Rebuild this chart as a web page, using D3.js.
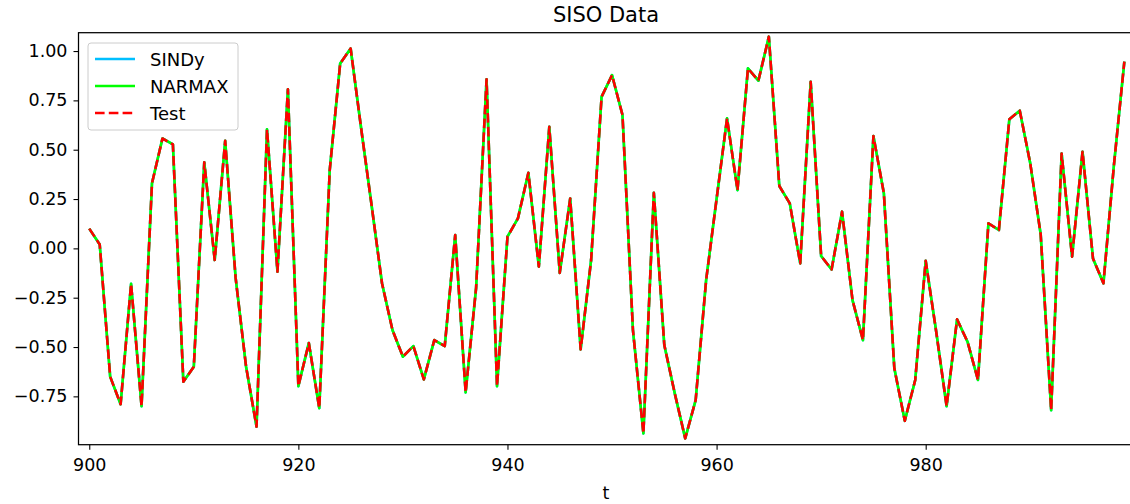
<!DOCTYPE html>
<html>
<head>
<meta charset="utf-8">
<script src="https://cdn.jsdelivr.net/npm/d3@7"></script>
<style>
  body { margin: 0; background: #fff; }
  svg { font-family: "DejaVu Sans", sans-serif; }
</style>
</head>
<body>
<div class="canvas"></div>
<script>
// time steps 900..999
const tStart = 900;

// test signal
const test = [
  0.10, 0.02, -0.65, -0.79, -0.18, -0.80, 0.33, 0.557, 0.527, -0.676,
  -0.60, 0.436, -0.059, 0.545, -0.15, -0.60, -0.904, 0.603, -0.118, 0.806,
  -0.698, -0.48, -0.81, 0.397, 0.937, 1.013, 0.61, 0.22, -0.177, -0.414,
  -0.549, -0.495, -0.664, -0.465, -0.495, 0.067, -0.73, -0.20, 0.857, -0.698,
  0.059, 0.152, 0.383, -0.093, 0.616, -0.124, 0.253, -0.512, -0.059, 0.768,
  0.878, 0.676, -0.414, -0.938, 0.282, -0.49, -0.735, -0.963, -0.769, -0.161,
  0.25, 0.659, 0.295, 0.912, 0.85, 1.073, 0.316, 0.228, -0.076, 0.844,
  -0.039, -0.107, 0.186, -0.262, -0.465, 0.569, 0.279, -0.608, -0.874, -0.667,
  -0.063, -0.42, -0.80, -0.36, -0.473, -0.667, 0.127, 0.093, 0.654, 0.698,
  0.431, 0.07, -0.82, 0.481, -0.042, 0.49, -0.051, -0.177, 0.42, 0.946
];
// both models track the test signal so closely the lines overlap
const sindy = test.slice();
const narmax = test.slice();

const series = [
  { name: 'SINDy', values: sindy, color: '#00bfff', dash: null },
  { name: 'NARMAX', values: narmax, color: '#00ff00', dash: null },
  { name: 'Test', values: test, color: '#ff0000', dash: '9.6,4.2' }
];

const xTicks = [900, 920, 940, 960, 980];
const yTicks = [-0.75, -0.5, -0.25, 0, 0.25, 0.5, 0.75, 1.0];

const W = 1130, H = 504;
const padL = 78.5, padT = 32.7, padB = 444.7, padR = 1134.8;
const fs = 17.5;

const svg = d3.select('.canvas')
  .append('svg')
  .attr('width', W)
  .attr('height', H);

const x = d3.scaleLinear().domain([899, 1000]).range([78.8, 1134.8]);
const y = d3.scaleLinear().domain([-0.995, 1.093]).range([padB, padT]);

svg.append('clipPath').attr('id', 'plotclip')
  .append('rect')
  .attr('x', padL).attr('y', padT)
  .attr('width', padR - padL).attr('height', padB - padT);

const line = d3.line()
  .x((d, i) => x(tStart + i))
  .y(d => y(d));

const plot = svg.append('g').attr('clip-path', 'url(#plotclip)');

series.forEach(s => {
  plot.append('path')
    .datum(s.values)
    .attr('d', line)
    .attr('fill', 'none')
    .attr('stroke', s.color)
    .attr('stroke-width', 2.6)
    .attr('stroke-linejoin', 'round')
    .attr('stroke-dasharray', s.dash);
});

// spines
svg.append('rect')
  .attr('x', padL).attr('y', padT)
  .attr('width', padR - padL).attr('height', padB - padT)
  .attr('fill', 'none')
  .attr('stroke', '#000')
  .attr('stroke-width', 1.25);

// axes
const xAxis = d3.axisBottom(x).tickValues(xTicks).tickSize(5).tickPadding(5).tickFormat(d3.format('d'));
const gx = svg.append('g').attr('transform', `translate(0,${padB})`).call(xAxis);
gx.select('.domain').remove();

const yAxis = d3.axisLeft(y).tickValues(yTicks).tickSize(5).tickPadding(6).tickFormat(d3.format('.2f'));
const gy = svg.append('g').attr('transform', `translate(${padL},0)`).call(yAxis);
gy.select('.domain').remove();

svg.selectAll('.tick text')
  .attr('font-size', fs)
  .attr('font-family', '"DejaVu Sans", sans-serif')
  .attr('fill', '#000');
svg.selectAll('.tick line').attr('stroke', '#000').attr('stroke-width', 1.1);
gx.selectAll('.tick text').attr('dy', '0.95em');
// matplotlib uses a real minus sign
gy.selectAll('.tick text').text(d => d3.format('.2f')(d).replace('-', '\u2212'));

// title and label
svg.append('text')
  .attr('x', 606).attr('y', 22)
  .attr('text-anchor', 'middle')
  .attr('font-size', 21)
  .text('SISO Data');

svg.append('text')
  .attr('x', 606).attr('y', 499)
  .attr('text-anchor', 'middle')
  .attr('font-size', fs)
  .text('t');

// legend
const legend = svg.append('g').attr('transform', 'translate(88,43)');
legend.append('rect')
  .attr('width', 150).attr('height', 87)
  .attr('rx', 3)
  .attr('fill', '#fff').attr('fill-opacity', 0.8)
  .attr('stroke', '#ccc');

series.forEach((s, i) => {
  const ly = 16 + i * 27;
  legend.append('line')
    .attr('x1', 7).attr('x2', 47)
    .attr('y1', ly).attr('y2', ly)
    .attr('stroke', s.color)
    .attr('stroke-width', 2.6)
    .attr('stroke-dasharray', s.dash);
  legend.append('text')
    .attr('x', 62).attr('y', ly + 6.5)
    .attr('font-size', 18)
    .text(s.name);
});
</script>
</body>
</html>
